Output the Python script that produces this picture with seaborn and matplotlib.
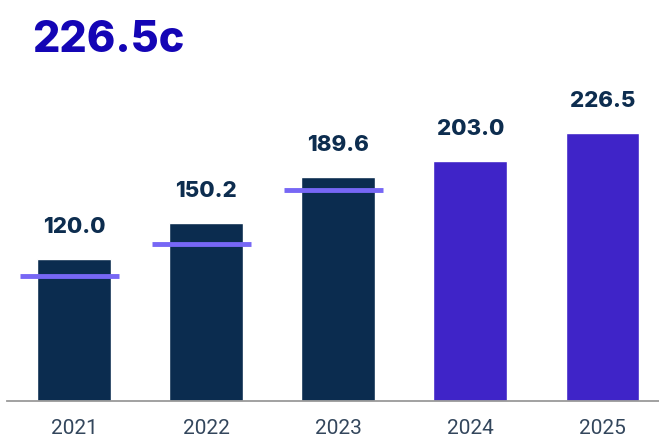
import numpy as np
import pandas as pd
import matplotlib.pyplot as plt
import seaborn as sns

years = ['2021', '2022', '2023', '2024', '2025']
values = [120.0, 150.2, 189.6, 203.0, 226.5]
markers = [105.5, 132.8, 178.5]  # light purple ticks on first three bars
bar_colors = ['#0B2C4F', '#0B2C4F', '#0B2C4F', '#3F24C8', '#3F24C8']
headline = '226.5c'

sns.set_theme(style='white')
plt.rcParams['font.family'] = ['Roboto', 'DejaVu Sans']

df = pd.DataFrame({'year': years, 'value': values})

fig = plt.figure(figsize=(6.59, 4.37), dpi=100)
ax = fig.add_axes([0.011, 0.0824, 0.989, 0.68])

sns.barplot(data=df, x='year', y='value', hue='year', palette=bar_colors,
            legend=False, width=0.56, saturation=1, ax=ax)

pos = np.arange(len(markers))
ax.hlines(markers, pos - 0.41, pos + 0.34, colors='#7767F5', linewidth=3.5, zorder=3)

for i, v in enumerate(values):
    ax.annotate(f'{v:.1f}', (i, v), xytext=(0, 32), textcoords='offset pixels',
                ha='center', va='center', fontsize=16, fontweight='heavy',
                color='#0D2D4F', family=['Inter', 'DejaVu Sans'], annotation_clip=False)

ax.set_xlim(-0.508, 4.428)
ax.set_ylim(0, 251)
ax.set_xlabel('')
ax.set_ylabel('')
ax.set_yticks([])
sns.despine(ax=ax, left=True, top=True, right=True)
ax.spines['bottom'].set_color('#9A9A9A')
ax.spines['bottom'].set_linewidth(1.3)
ax.tick_params(axis='x', length=0, pad=13, labelsize=15, labelcolor='#33465C')

fig.text(0.048, 0.908, headline, ha='left', va='center', fontsize=31,
         fontweight='heavy', color='#1405B5', family=['Inter', 'DejaVu Sans'])

fig.savefig('out.png', dpi=100)
